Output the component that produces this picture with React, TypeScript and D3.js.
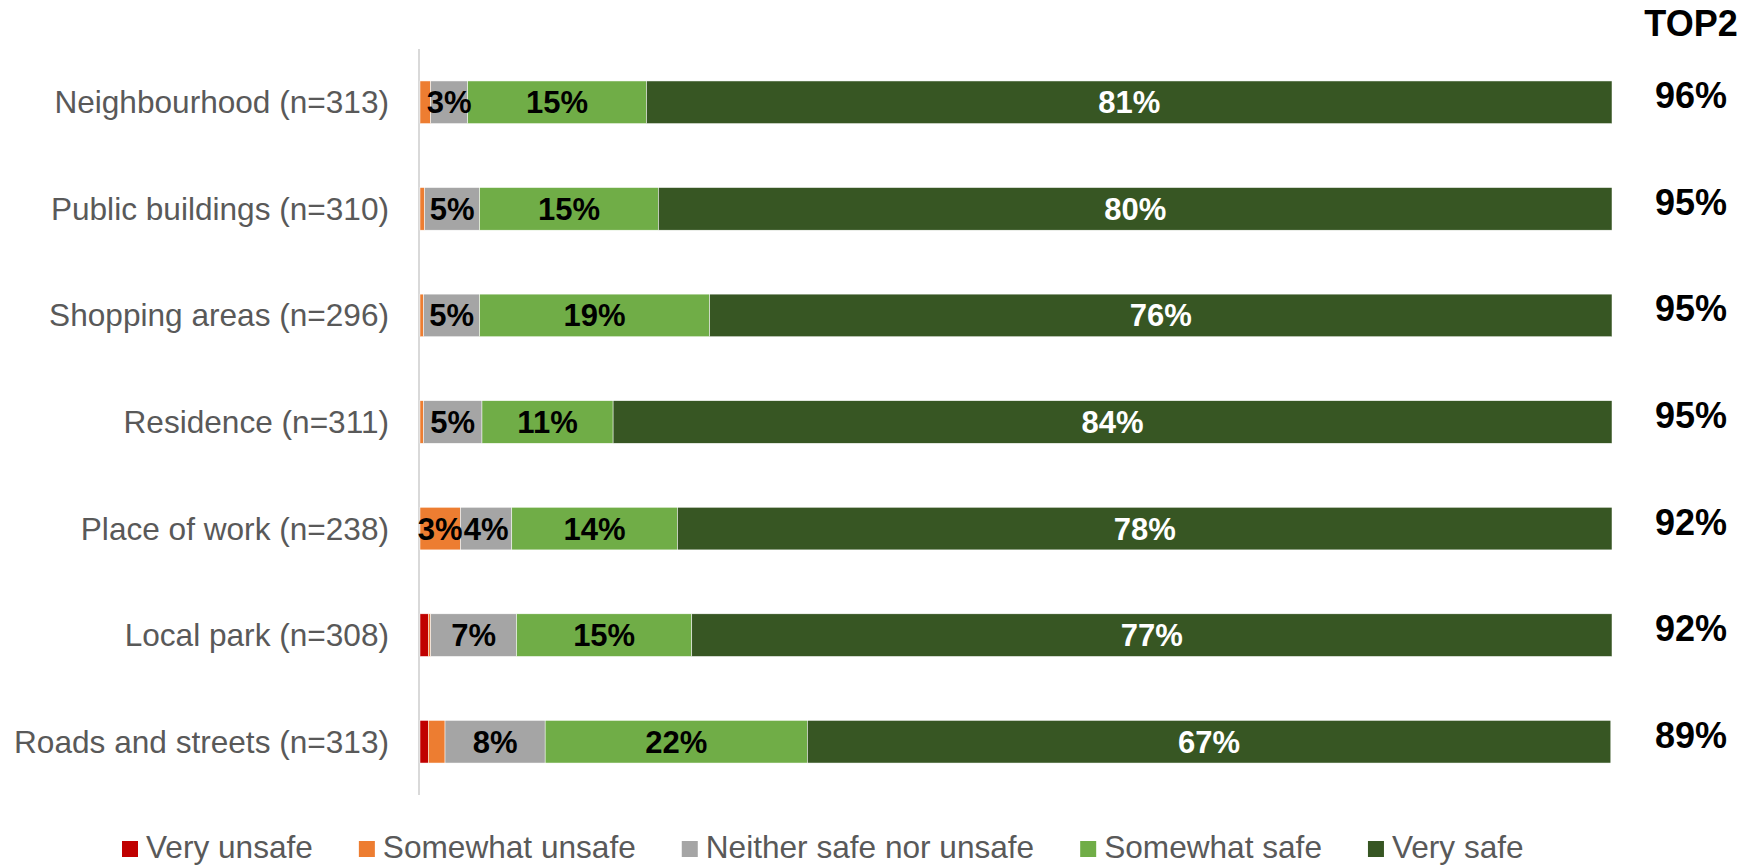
import React, { useEffect, useRef } from "react";
import * as d3 from "d3";

const categories = [
  "Neighbourhood (n=313)",
  "Public buildings (n=310)",
  "Shopping areas (n=296)",
  "Residence (n=311)",
  "Place of work (n=238)",
  "Local park (n=308)",
  "Roads and streets (n=313)",
];

const seriesNames = [
  "Very unsafe",
  "Somewhat unsafe",
  "Neither safe nor unsafe",
  "Somewhat safe",
  "Very safe",
];

const veryUnsafe = [0, 0, 0, 0, 0, 0.7, 0.7];
const somewhatUnsafe = [0.9, 0.4, 0.3, 0.3, 3.4, 0.2, 1.4];
const neither = [3.1, 4.6, 4.7, 4.9, 4.3, 7.2, 8.4];
const somewhatSafe = [15.0, 15.0, 19.3, 11.0, 13.9, 14.7, 22.0];
const verySafe = [81.0, 80.0, 75.7, 83.8, 78.4, 77.2, 67.4];

const top2 = [96, 95, 95, 95, 92, 92, 89];
const top2Title = "TOP2";

const colors = ["#C00000", "#ED7D31", "#A5A5A5", "#70AD47", "#375623"];
const labelColors = ["#000000", "#000000", "#000000", "#000000", "#FFFFFF"];

const W = 1745;
const H = 866;
const FONT = "Arial, 'Liberation Sans', sans-serif";

export default function App() {
  const ref = useRef<SVGSVGElement | null>(null);

  useEffect(() => {
    const svg = d3.select(ref.current);
    svg.selectAll("*").remove();

    const series = [veryUnsafe, somewhatUnsafe, neither, somewhatSafe, verySafe];
    const rows = categories.map((c, i) => {
      const r: any = { cat: c };
      seriesNames.forEach((s, j) => (r[s] = series[j][i]));
      return r;
    });
    const stacked = d3.stack<any>().keys(seriesNames)(rows);

    const x = d3.scaleLinear().domain([0, 100]).range([420, 1612]);
    const y = d3
      .scaleBand<string>()
      .domain(categories)
      .range([49, 795])
      .paddingInner(0.6)
      .paddingOuter(0.3);

    // axis line
    svg
      .append("line")
      .attr("x1", 419)
      .attr("x2", 419)
      .attr("y1", 49)
      .attr("y2", 795)
      .attr("stroke", "#D9D9D9")
      .attr("stroke-width", 2);

    // bars
    const g = svg.append("g");
    stacked.forEach((layer, j) => {
      g.selectAll(null)
        .data(layer)
        .enter()
        .append("rect")
        .attr("x", (d) => x(d[0]))
        .attr("width", (d) => Math.max(0, x(d[1]) - x(d[0])))
        .attr("y", (d: any) => y(d.data.cat)!)
        .attr("height", y.bandwidth())
        .attr("fill", colors[j])
        .attr("stroke", "#FFFFFF")
        .attr("stroke-width", 0.5);
    });

    // value labels
    stacked.forEach((layer, j) => {
      g.selectAll(null)
        .data(layer.filter((d) => d[1] - d[0] >= 2.5))
        .enter()
        .append("text")
        .attr("x", (d) => (x(d[0]) + x(d[1])) / 2)
        .attr("y", (d: any) => y(d.data.cat)! + y.bandwidth() / 2 + 11)
        .attr("text-anchor", "middle")
        .attr("font-family", FONT)
        .attr("font-weight", "bold")
        .attr("font-size", 31)
        .attr("fill", labelColors[j])
        .text((d) => `${Math.round(d[1] - d[0])}%`);
    });

    // category labels
    svg
      .append("g")
      .selectAll("text")
      .data(categories)
      .enter()
      .append("text")
      .attr("x", 389)
      .attr("y", (d) => y(d)! + y.bandwidth() / 2 + 11)
      .attr("text-anchor", "end")
      .attr("font-family", FONT)
      .attr("font-size", 31.6)
      .attr("fill", "#595959")
      .text((d) => d);

    // TOP2
    svg
      .append("text")
      .attr("x", 1691)
      .attr("y", 36)
      .attr("text-anchor", "middle")
      .attr("font-family", FONT)
      .attr("font-weight", "bold")
      .attr("font-size", 36)
      .attr("fill", "#000")
      .text(top2Title);

    svg
      .append("g")
      .selectAll("text")
      .data(top2)
      .enter()
      .append("text")
      .attr("x", 1691)
      .attr("y", (d, i) => y(categories[i])! + y.bandwidth() / 2 + 6)
      .attr("text-anchor", "middle")
      .attr("font-family", FONT)
      .attr("font-weight", "bold")
      .attr("font-size", 36)
      .attr("fill", "#000")
      .text((d) => `${d}%`);

    // legend
    const lg = svg.append("g");
    let cx = 122;
    seriesNames.forEach((name, j) => {
      lg.append("rect")
        .attr("x", cx)
        .attr("y", 841)
        .attr("width", 16)
        .attr("height", 16)
        .attr("fill", colors[j]);
      const t = lg
        .append("text")
        .attr("x", cx + 24)
        .attr("y", 858)
        .attr("font-family", FONT)
        .attr("font-size", 31.6)
        .attr("fill", "#595959")
        .text(name);
      const w = (t.node() as SVGTextElement).getComputedTextLength();
      cx = cx + 24 + w + 46;
    });
  }, []);

  return (
    <svg
      ref={ref}
      width={W}
      height={H}
      style={{ position: "absolute", left: 0, top: 0, background: "#fff" }}
    />
  );
}
